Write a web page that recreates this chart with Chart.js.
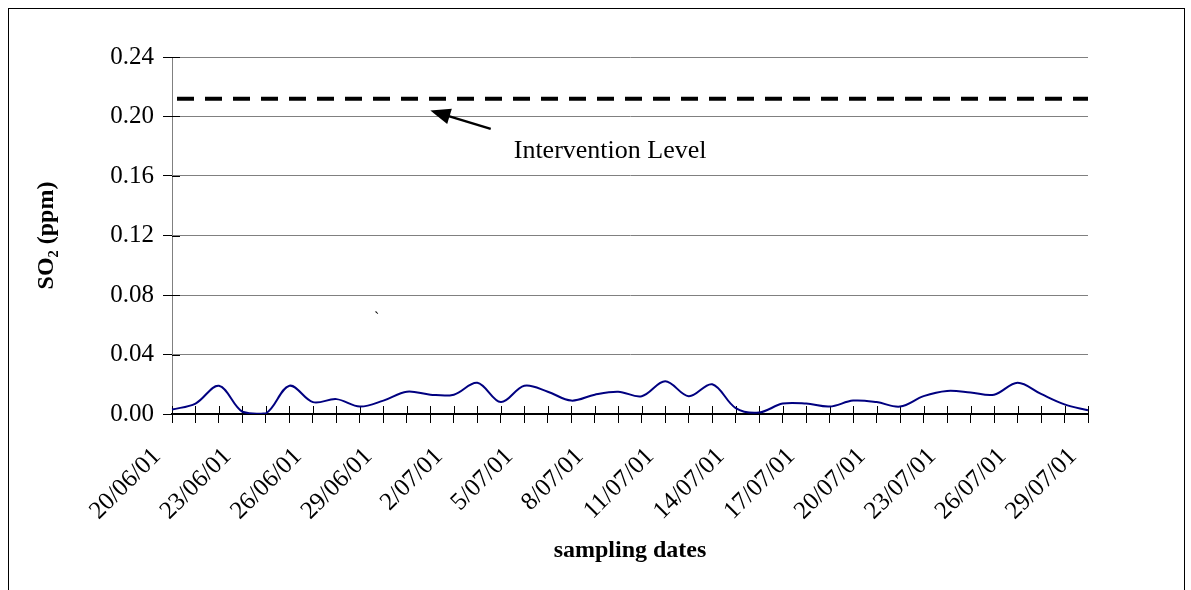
<!DOCTYPE html>
<html>
<head>
<meta charset="utf-8">
<title>SO2 sampling</title>
<script src="https://cdn.jsdelivr.net/npm/chart.js@4.4.0/dist/chart.umd.min.js"></script>
<style>
  html, body { margin: 0; padding: 0; background: #fff; overflow: hidden; }
  #wrap { position: relative; width: 1191px; height: 590px; }
  #frame {
    position: absolute; left: 8px; top: 8px; width: 1175px; height: 640px;
    border: 1px solid #000; pointer-events: none;
  }
</style>
</head>
<body>
<div id="wrap">
  <canvas id="myChart" width="1191" height="590"></canvas>
  <div id="frame"></div>
</div>
<script>
"use strict";
const ctx = document.getElementById('myChart');

// one sample per day, 20/06/01 .. 29/07/01
const dates = [
  '20/06/01', '21/06/01', '22/06/01', '23/06/01', '24/06/01', '25/06/01', '26/06/01', '27/06/01',
  '28/06/01', '29/06/01', '30/06/01', '1/07/01', '2/07/01', '3/07/01', '4/07/01', '5/07/01',
  '6/07/01', '7/07/01', '8/07/01', '9/07/01', '10/07/01', '11/07/01', '12/07/01', '13/07/01',
  '14/07/01', '15/07/01', '16/07/01', '17/07/01', '18/07/01', '19/07/01', '20/07/01', '21/07/01',
  '22/07/01', '23/07/01', '24/07/01', '25/07/01', '26/07/01', '27/07/01', '28/07/01', '29/07/01'
];
const so2 = [
  0.003, 0.007, 0.019, 0.0015, 0.0005, 0.019, 0.008, 0.010, 0.005, 0.009,
  0.015, 0.013, 0.013, 0.021, 0.008, 0.019, 0.015, 0.009, 0.013, 0.015,
  0.012, 0.022, 0.012, 0.020, 0.004, 0.001, 0.007, 0.007, 0.005, 0.009,
  0.008, 0.005, 0.012, 0.0155, 0.0145, 0.013, 0.021, 0.0135, 0.0065, 0.0025
];
const interventionLevel = 0.212;
const yTicks = [0, 0.04, 0.08, 0.12, 0.16, 0.20, 0.24];

const serif = '"Liberation Serif", "Times New Roman", serif';

// tick marks that cross the axis lines (the library only draws the outer half)
const crossTicks = {
  id: 'crossTicks',
  beforeDatasetsDraw(chart) {
    const c = chart.ctx;
    const xs = chart.scales.x;
    const ys = chart.scales.y;
    const area = chart.chartArea;
    c.save();
    c.strokeStyle = '#000';
    c.lineWidth = 1;
    xs.ticks.forEach((t, i) => {
      const px = Math.round(xs.getPixelForTick(i)) + 0.5;
      c.beginPath();
      c.moveTo(px, area.bottom - 8);
      c.lineTo(px, area.bottom);
      c.stroke();
    });
    yTicks.forEach(v => {
      const py = Math.round(ys.getPixelForValue(v)) + 0.5;
      c.beginPath();
      c.moveTo(area.left, py);
      c.lineTo(area.left + 8, py);
      c.stroke();
    });
    c.restore();
  }
};

// arrow + caption for the intervention level, anchored in data units
const levelNote = {
  id: 'levelNote',
  afterDatasetsDraw(chart) {
    const c = chart.ctx;
    const xs = chart.scales.x;
    const ys = chart.scales.y;
    const px = i => xs.getPixelForValue(0) + (xs.getPixelForValue(1) - xs.getPixelForValue(0)) * i;
    const tipX = px(11.0), tipY = ys.getPixelForValue(0.204);
    const tailX = px(13.57), tailY = ys.getPixelForValue(0.1917);
    const ang = Math.atan2(tailY - tipY, tailX - tipX);
    c.save();
    c.strokeStyle = '#000';
    c.fillStyle = '#000';
    c.lineWidth = 2.5;
    c.beginPath();
    c.moveTo(tailX, tailY);
    c.lineTo(tipX + Math.cos(ang) * 14, tipY + Math.sin(ang) * 14);
    c.stroke();
    const len = 20, half = 8;
    const bx = tipX + Math.cos(ang) * len, by = tipY + Math.sin(ang) * len;
    c.beginPath();
    c.moveTo(tipX, tipY);
    c.lineTo(bx - Math.sin(ang) * half, by + Math.cos(ang) * half);
    c.lineTo(bx + Math.sin(ang) * half, by - Math.cos(ang) * half);
    c.closePath();
    c.fill();
    c.font = '26px ' + serif;
    c.textBaseline = 'alphabetic';
    c.textAlign = 'left';
    c.fillText('Intervention Level', px(14.55), ys.getPixelForValue(0.172));
    // stray mark left in the plot
    c.font = '16px ' + serif;
    c.fillText('`', px(8.6), ys.getPixelForValue(0.061));
    c.restore();
  }
};

let myChart = new Chart(ctx, {
  type: 'line',
  plugins: [crossTicks, levelNote],
  data: {
    labels: dates,
    datasets: [{
      label: 'SO2',
      data: so2,
      borderColor: '#000080',
      borderWidth: 2,
      pointRadius: 0,
      tension: 0.35,
      fill: false
    },
    {
      label: 'Intervention Level',
      data: [{ x: dates[0], y: interventionLevel }, { x: dates[dates.length - 1], y: interventionLevel }],
      borderColor: '#000',
      borderWidth: 4,
      borderDash: [17, 11],
      borderDashOffset: -5,
      pointRadius: 0,
      fill: false
    }]
  },
  options: {
    responsive: false,
    animation: false,
    layout: { padding: { left: 0, top: 57, right: 103, bottom: 0 } },
    plugins: {
      legend: { display: false },
      tooltip: { enabled: false }
    },
    scales: {
      x: {
        type: 'category',
        offset: false,
        afterFit(scale) { scale.height = 176; },
        grid: { drawOnChartArea: false, tickLength: 9, tickColor: '#000', offset: false },
        border: { color: '#000', width: 2 },
        ticks: {
          autoSkip: false,
          maxRotation: 45,
          minRotation: 45,
          padding: 19,
          labelOffset: -15,
          color: '#000',
          font: { family: serif, size: 25 },
          callback: function (value, index) {
            return index % 3 === 0 ? this.getLabelForValue(value) : '';
          }
        },
        title: {
          display: true,
          text: 'sampling dates',
          color: '#000',
          font: { family: serif, size: 24, weight: 'bold' },
          padding: { top: 0, bottom: 25 }
        }
      },
      y: {
        min: 0,
        max: 0.24,
        afterFit(scale) { scale.width = 172; },
        afterBuildTicks(scale) { scale.ticks = yTicks.map(v => ({ value: v })); },
        grid: {
          color: c => (c.tick && c.tick.value === 0) ? '#000' : '#808080',
          lineWidth: 1,
          tickLength: 9,
          tickColor: '#000'
        },
        border: { color: '#808080', width: 1 },
        ticks: {
          padding: 9,
          color: '#000',
          font: { family: serif, size: 25 },
          callback: v => v.toFixed(2)
        },
        title: {
          display: true,
          text: 'SO₂ (ppm)',
          color: '#000',
          font: { family: serif, size: 24, weight: 'bold' },
          padding: { top: 32, bottom: 0 }
        }
      }
    }
  }
});
</script>
</body>
</html>
